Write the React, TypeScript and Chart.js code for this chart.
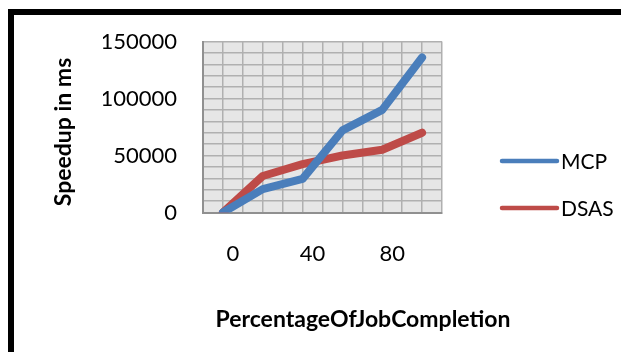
import React, { useEffect, useRef } from "react";
import { Chart, registerables } from "chart.js";

Chart.register(...registerables);

const categories = [0, 20, 40, 60, 80, 100];
const mcpValues = [0, 20500, 29500, 72000, 90000, 136000];
const dsasValues = [0, 32000, 42500, 50000, 55000, 70000];
const seriesNames = ["MCP", "DSAS"];
const seriesColors = ["#4a7ebb", "#be4b48"];
const xTickLabels = [0, 40, 80];
const yTickLabels = [0, 50000, 100000, 150000];
const xTitle = "PercentageOfJobCompletion";
const yTitle = "Speedup in ms";

const FONT = "Lato, 'Open Sans', sans-serif";

const overlayPlugin = {
  id: "overlay",
  beforeDraw(chart: any) {
    const { ctx, chartArea } = chart;
    ctx.save();
    ctx.fillStyle = "#e6e6e6";
    ctx.fillRect(chartArea.left, chartArea.top, chartArea.right - chartArea.left, chartArea.bottom - chartArea.top);
    ctx.restore();
  },
  afterDraw(chart: any) {
    const { ctx, chartArea } = chart;
    ctx.save();
    const midY = (chartArea.top + chartArea.bottom) / 2;
    chart.data.datasets.forEach((ds: any, i: number) => {
      const y = midY + 34 + i * 47;
      const x0 = chartArea.right + 60;
      ctx.strokeStyle = ds.borderColor;
      ctx.lineWidth = 4.5;
      ctx.lineCap = "round";
      ctx.beginPath();
      ctx.moveTo(x0, y);
      ctx.lineTo(x0 + 55, y);
      ctx.stroke();
      ctx.fillStyle = "#000";
      ctx.font = `21px ${FONT}`;
      ctx.textAlign = "left";
      ctx.textBaseline = "middle";
      ctx.fillText(ds.label, x0 + 59, y + 1);
    });
    ctx.fillStyle = "#000";
    ctx.font = `bold 23px ${FONT}`;
    ctx.textAlign = "center";
    ctx.textBaseline = "middle";
    ctx.fillText(xTitle, chartArea.left + 160, chartArea.bottom + 107);
    ctx.translate(64, midY + 5);
    ctx.rotate(-Math.PI / 2);
    ctx.fillText(yTitle, 0, 0);
    ctx.restore();
  },
};

export default function App() {
  const ref = useRef<HTMLCanvasElement>(null);
  useEffect(() => {
    const chart = new Chart(ref.current!, {
      type: "line",
      data: {
        datasets: [mcpValues, dsasValues].map((vals, i) => ({
          label: seriesNames[i],
          data: categories.map((c, j) => ({ x: c, y: vals[j] })),
          borderColor: seriesColors[i],
          backgroundColor: seriesColors[i],
          borderWidth: 8,
          borderCapStyle: "round" as const,
          borderJoinStyle: "round" as const,
          pointRadius: 0,
          tension: 0,
        })),
      },
      options: {
        animation: false,
        responsive: false,
        layout: { padding: { left: 103, top: 41.5, right: 179, bottom: 0 } },
        plugins: { legend: { display: false }, tooltip: { enabled: false } },
        scales: {
          x: {
            type: "linear",
            min: -10,
            max: 110,
            afterFit: (s: any) => { s.height = 139.5; },
            grid: { color: "#b0b0b0", lineWidth: 1.5, drawTicks: false },
            border: { color: "#909090", width: 2 },
            ticks: {
              stepSize: 10,
              autoSkip: false,
              maxRotation: 0,
              padding: 28,
              labelOffset: 10,
              color: "#000",
              font: { family: FONT, size: 22 },
              callback: (v: any) => (xTickLabels.includes(Number(v)) ? String(v) : ""),
            },
          },
          y: {
            min: 0,
            max: 150000,
            afterFit: (s: any) => { s.width = 100; },
            grid: { color: "#b0b0b0", lineWidth: 1.5, drawTicks: false },
            border: { color: "#909090", width: 2 },
            ticks: {
              stepSize: 10000,
              autoSkip: false,
              padding: 26,
              color: "#000",
              font: { family: FONT, size: 22 },
              callback: (v: any) => (yTickLabels.includes(Number(v)) ? String(v) : ""),
            },
          },
        },
      },
      plugins: [overlayPlugin],
    });
    return () => chart.destroy();
  }, []);
  return (
    <>
      <div
        style={{
          position: "fixed",
          left: 8,
          top: 9,
          width: 700,
          height: 400,
          border: "6px solid #000",
          boxSizing: "border-box",
        }}
      />
      <canvas
        ref={ref}
        width={621}
        height={352}
        style={{ position: "fixed", left: 0, top: 0, width: 621, height: 352 }}
      />
    </>
  );
}
